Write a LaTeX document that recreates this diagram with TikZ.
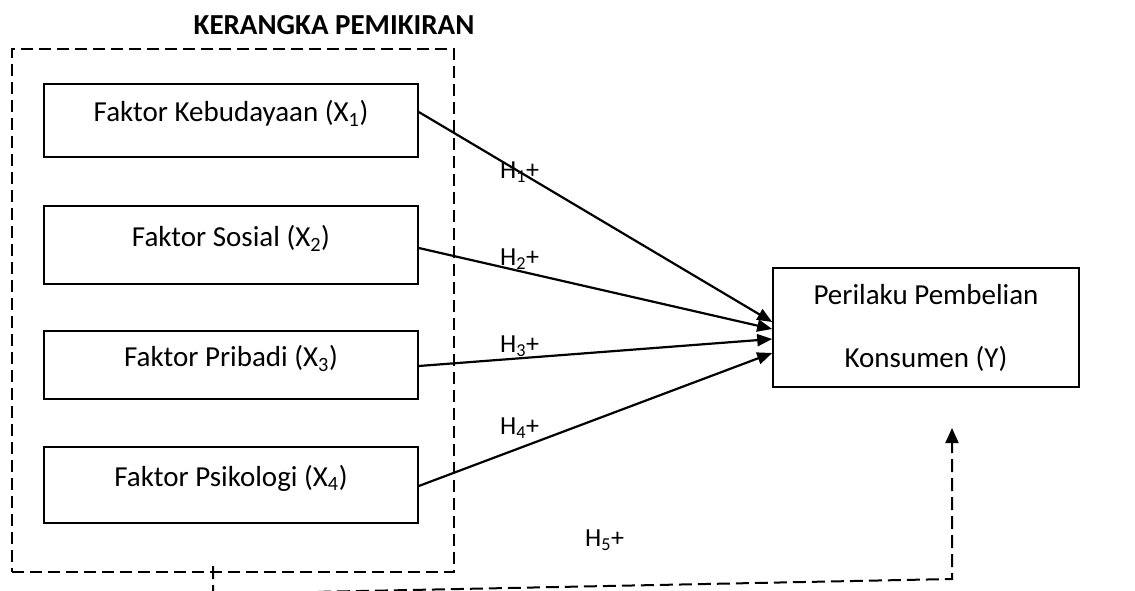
\documentclass[tikz,border=0pt]{standalone}
\usepackage{fontspec}
\setmainfont{Carlito}
\usetikzlibrary{arrows.meta,calc}
\tikzset{
  fbox/.style={draw, line width=1.6pt, minimum width=374pt, inner sep=0pt,
    text height=20pt, text depth=17pt,
    font=\fontsize{29}{35}\selectfont},
  ybox/.style={draw, line width=1.6pt, minimum width=306pt, minimum height=119pt,
    align=center, inner sep=0pt, font=\fontsize{29}{63}\selectfont},
  frame/.style={draw, dash pattern=on 12pt off 6pt, line width=1.6pt},
  conn/.style={line width=2.2pt, -{Triangle[length=15pt,width=12pt]}},
  dconn/.style={line width=2pt, dash pattern=on 13pt off 6pt,
    -{Triangle[length=15pt,width=13pt]}},
  hlab/.style={anchor=west, inner sep=0pt, font=\fontsize{26}{31}\selectfont},
  title/.style={font=\fontsize{29}{35}\selectfont\bfseries, inner sep=0pt}
}
\begin{document}
\begin{tikzpicture}[x=1pt,y=-1pt]
\useasboundingbox (0,0) rectangle (1135,591);
\clip (0,0) rectangle (1135,591);
\node[title] (tt) at (334,25) {KERANGKA PEMIKIRAN};
\node[frame, minimum width=442pt, minimum height=523pt, inner sep=0pt] (fr) at (233,310.5) {};
\node[fbox, minimum height=73pt] (b1) at (231,120.5) {Faktor Kebudayaan (X\textsubscript{1})};
\node[fbox, minimum height=78pt] (b2) at (231,245) {Faktor Sosial (X\textsubscript{2})};
\node[fbox, minimum height=68pt] (b3) at (231,365) {Faktor Pribadi (X\textsubscript{3})};
\node[fbox, minimum height=76pt] (b4) at (231,485) {Faktor Psikologi (X\textsubscript{4})};
\node[ybox] (y) at (926,327.5) {Perilaku Pembelian\\Konsumen (Y)};
\coordinate (s1) at ($(b1.east)+(0,-8.5)$);
\coordinate (s2) at ($(b2.east)+(0,3)$);
\coordinate (s3) at ($(b3.east)+(0,1)$);
\coordinate (s4) at ($(b4.east)+(0,1)$);
\coordinate (t1) at ($(y.west)+(0,-5.5)$);
\coordinate (t2) at ($(y.west)+(0,1.5)$);
\coordinate (t3) at ($(y.west)+(0,11.5)$);
\coordinate (t4) at ($(y.west)+(0,25.5)$);
\draw[conn] (s1) -- (t1);
\draw[conn] (s2) -- (t2);
\draw[conn] (s3) -- (t3);
\draw[conn] (s4) -- (t4);
\node[hlab] (h1) at (500,172) {H\textsubscript{1}+};
\node[hlab] (h2) at (500,259) {H\textsubscript{2}+};
\node[hlab] (h3) at (500,346) {H\textsubscript{3}+};
\node[hlab] (h4) at (500,428) {H\textsubscript{4}+};
\node[hlab] (h5) at (585,540) {H\textsubscript{5}+};
\coordinate (d0) at (213,566);
\coordinate (d1) at (213,594);
\coordinate (d2) at (952,579);
\coordinate (d3) at (952,428);
\draw[dconn] (d0) -- (d1) -- (d2) -- (d3);
\end{tikzpicture}
\end{document}
